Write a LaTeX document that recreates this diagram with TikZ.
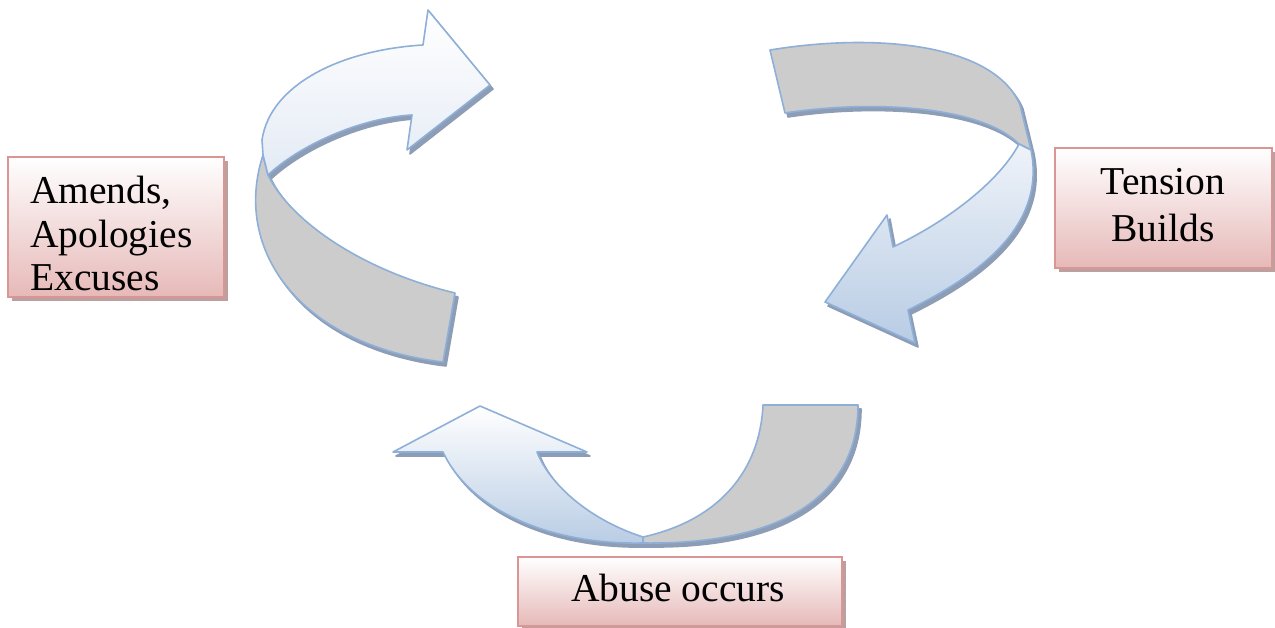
\documentclass[tikz,border=0pt]{standalone}
\usepackage{fontspec}
\setmainfont{Liberation Serif}
\definecolor{edgec}{HTML}{8EAFD8}
\definecolor{shadowc}{HTML}{8C9DB5}
\definecolor{grayface}{HTML}{CCCCCC}
\definecolor{bluebot}{HTML}{B8CCE4}
\definecolor{bluemid}{HTML}{E4EBF5}
\definecolor{boxedge}{HTML}{D99694}
\definecolor{boxbot}{HTML}{E6B9B8}
\definecolor{boxshadow}{HTML}{BCA0A0}
\tikzset{
  face/.style={draw=edgec, line width=1.6pt, line join=round},
  gface/.style={face, fill=grayface},
  sface/.style={fill=shadowc, draw=shadowc, line width=1.6pt, line join=round, shift={(3,4)}},
  labelbox/.style={draw=boxedge, line width=1.6pt, top color=white, bottom color=boxbot, inner sep=0pt},
  boxshade/.style={fill=boxshadow, inner sep=0pt},
  lbl/.style={font=\fontsize{39.5}{43.5}\selectfont, inner sep=0pt}
}
\newcommand\ribAface{(268,175) .. controls (300,145) and (360,118) .. (412,115) -- (407,150) -- (490,85) -- (428,10) -- (423,45) .. controls (340,50) and (270,85) .. (262,140) -- (263,155) -- cycle}
\newcommand\ribAback{(263,155) .. controls (232,250) and (300,345) .. (443,362) -- (455,293) .. controls (360,270) and (290,220) .. (268,175) -- cycle}
\newcommand\ribBback{(770,50) .. controls (880,32) and (995,45) .. (1020,105) -- (1031,150) -- (1019,144) .. controls (980,105) and (870,100) .. (785,113) -- cycle}
\newcommand\ribBface{(1019,144) .. controls (1000,180) and (950,220) .. (893,247) -- (887,215) -- (825,302) -- (915,343) -- (908,310) .. controls (990,270) and (1045,220) .. (1031,150) -- cycle}
\newcommand\ribCback{(643,537) .. controls (720,520) and (760,470) .. (763,405) -- (858,405) .. controls (858,490) and (790,545) .. (643,543) -- cycle}
\newcommand\ribCface{(643,537) .. controls (590,520) and (550,485) .. (537,452) -- (587,452) -- (480,406) -- (393,452) -- (443,452) .. controls (470,510) and (550,545) .. (643,543) -- cycle}
\begin{document}
\begin{tikzpicture}[x=1pt,y=-1pt]
\useasboundingbox (0,0) rectangle (1275,628);
% shadows of the ribbons
\path[sface] \ribAface;
\path[sface] \ribAback;
\path[sface] \ribBback;
\path[sface] \ribBface;
\path[sface] \ribCback;
\path[sface] \ribCface;
% ribbon faces
\path[gface] \ribAback;
\path[face, top color=white, bottom color=bluemid] \ribAface;
\path[gface] \ribBback;
\path[face, top color=bluemid!60!white, bottom color=bluebot] \ribBface;
\path[gface] \ribCback;
\path[face, top color=white, bottom color=bluebot] \ribCface;
% label boxes
\node[boxshade, minimum width=216pt, minimum height=140pt] (amendsshadow) at (120,231) {};
\node[labelbox, minimum width=216pt, minimum height=140pt] (amendsbox) at (116,227) {};
\node[lbl, align=left, anchor=base west] (amends) at (30,291) {Amends,\\Apologies\\Excuses};
\node[boxshade, minimum width=217pt, minimum height=120pt] (tensionshadow) at (1167.5,212) {};
\node[labelbox, minimum width=217pt, minimum height=120pt] (tensionbox) at (1163.5,208) {};
\node[lbl, font=\fontsize{39.5}{47}\selectfont, align=center, anchor=base] (tension) at (1163,242) {Tension\\Builds};
\node[boxshade, minimum width=324pt, minimum height=69pt] (abuseshadow) at (684,595.5) {};
\node[labelbox, minimum width=324pt, minimum height=69pt] (abusebox) at (680,591.5) {};
\node[lbl, anchor=base] (abuse) at (678,601) {Abuse occurs};
\end{tikzpicture}
\end{document}
